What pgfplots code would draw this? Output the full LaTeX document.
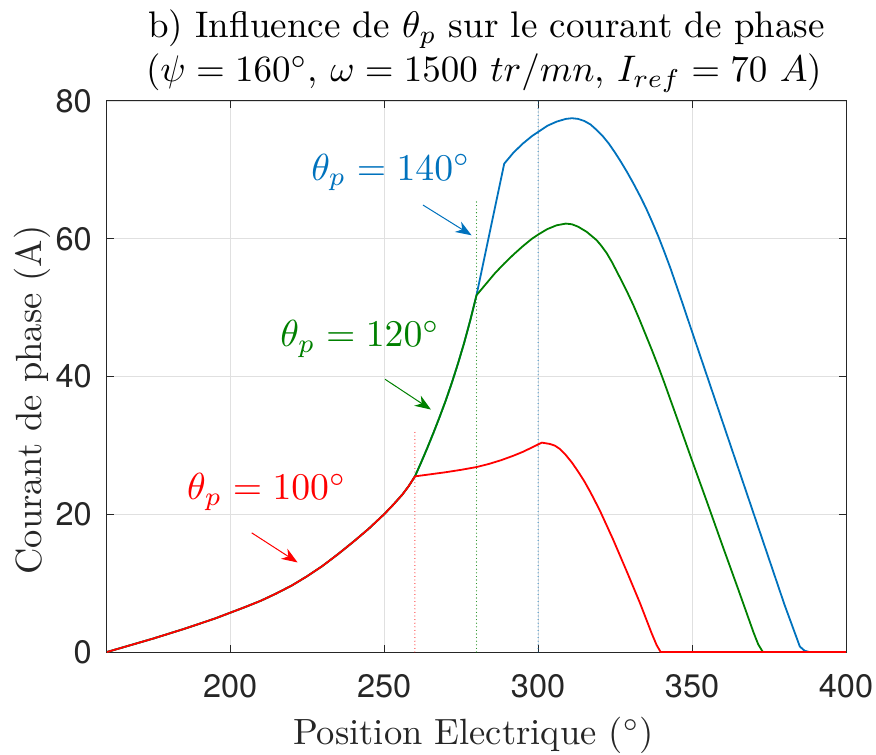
\RequirePackage{fix-cm}
\documentclass[border=0pt]{standalone}
\usepackage{pgfplots}
\pgfplotsset{compat=1.18}
\usepackage{fontspec}
\newfontfamily\helv{TeX Gyre Heros}
\usetikzlibrary{arrows.meta}
\definecolor{mblue}{rgb}{0,0.447,0.741}
\definecolor{mgreen}{rgb}{0,0.5,0}
\definecolor{mred}{rgb}{1,0,0}
\definecolor{axgray}{rgb}{0.15,0.15,0.15}
\definecolor{gridgray}{rgb}{0.88,0.88,0.88}
\pgfplotsset{dotline/.style={line width=1.1bp, line cap=round, dash pattern=on 0bp off 3.6bp}}
\newcommand\tenpt{\fontsize{10bp}{12bp}\selectfont}
\begin{document}
\begin{tikzpicture}
\useasboundingbox (-107bp,-103bp) rectangle (769bp,652bp);
\begin{axis}[at={(0,0)}, anchor=south west, scale only axis,
  width=739bp, height=551bp,
  xmin=160, xmax=400, ymin=0, ymax=80,
  xtick={200,250,300,350,400}, ytick={0,20,40,60,80},
  grid=major, major grid style={color=gridgray, line width=0.9bp},
  axis line style={color=axgray, line width=1bp},
  tick style={color=axgray, line width=1bp},
  tick align=inside, major tick length=7bp,
  /pgf/number format/assume math mode=true,
  ticklabel style={font=\helv\fontsize{32.5bp}{36bp}\selectfont, text=axgray},
  xticklabel style={anchor=base, inner sep=0pt, yshift=-45bp},
  yticklabel style={anchor=east, inner sep=0pt, xshift=-15bp},
  clip=false,
]
% dotted markers
\addplot[color=mred, dotline] coordinates {(260,0)(260,32)};
\addplot[color=mgreen, dotline] coordinates {(280,0)(280,65.5)};
\addplot[color=mblue, dotline] coordinates {(300,0)(300,80)};
% theta_p = 140
\addplot[color=mblue, line width=1.8bp, line join=round] coordinates {
(160,0)(165,0.65)(170,1.3)(175,1.95)(180,2.65)(185,3.35)(190,4.1)(195,4.85)(200,5.7)
(205,6.55)(210,7.45)(215,8.5)(220,9.65)(225,11.0)(230,12.5)(235,14.2)(240,16.0)
(245,17.9)(250,20.0)(253,21.4)(256,22.9)(258,24.1)(260,25.5)(262,27.5)(264,29.6)
(266,31.8)(268,34.1)(270,36.5)(272,39.1)(274,41.9)(276,44.9)(278,48.2)(280,51.8)
(289,70.9)(292,72.5)(295,73.8)(298,74.9)(300,75.5)(303,76.4)(306,77.0)(309,77.4)
(311,77.5)(313,77.4)(315,77.1)(317,76.6)(319,75.8)(321,74.9)(323,73.8)(325,72.5)
(327,71.1)(329,69.6)(331,68.0)(333,66.3)(335,64.5)(337,62.5)(339,60.4)(341,58.1)
(343,55.7)(345,53.1)(347,50.5)(350,46.5)(355,39.9)(360,33.3)(365,26.7)(370,20.1)
(375,13.5)(380,6.9)(385,0.8)(386.5,0.2)(388,0)(400,0)};
% theta_p = 120
\addplot[color=mgreen, line width=1.8bp, line join=round] coordinates {
(160,0)(165,0.65)(170,1.3)(175,1.95)(180,2.65)(185,3.35)(190,4.1)(195,4.85)(200,5.7)
(205,6.55)(210,7.45)(215,8.5)(220,9.65)(225,11.0)(230,12.5)(235,14.2)(240,16.0)
(245,17.9)(250,20.0)(253,21.4)(256,22.9)(258,24.1)(260,25.5)(262,27.5)(264,29.6)
(266,31.8)(268,34.1)(270,36.5)(272,39.1)(274,41.9)(276,44.9)(278,48.2)(280,51.8)
(283,53.4)(286,55.0)(289,56.4)(292,57.7)(295,58.9)(298,60.0)(300,60.6)(303,61.4)
(306,61.95)(309,62.2)(311,62.1)(313,61.75)(315.8,61.0)(319,59.8)(320.5,59.0)
(322.3,57.9)(324,56.6)(325.5,55.3)(327,54.0)(328.8,52.4)(331,50.3)(333,48.2)
(335,46.0)(337,43.8)(339,41.5)(341,39.1)(345,34.1)(350,27.8)(355,21.6)(360,15.3)
(365,9.1)(370,2.8)(371.5,1.1)(373,0)(400,0)};
% theta_p = 100
\addplot[color=mred, line width=1.8bp, line join=round] coordinates {
(160,0)(165,0.65)(170,1.3)(175,1.95)(180,2.65)(185,3.35)(190,4.1)(195,4.85)(200,5.7)
(205,6.55)(210,7.45)(215,8.5)(220,9.65)(225,11.0)(230,12.5)(235,14.2)(240,16.0)
(245,17.9)(250,20.0)(253,21.4)(256,22.9)(258,24.1)(260,25.5)(265,25.8)(270,26.1)
(275,26.45)(280,26.85)(284,27.3)(288,27.85)(292,28.5)(295,29.05)(298.5,29.8)(301.2,30.4)
(303.9,30.2)(305.5,29.95)(307,29.5)(309,28.6)(311,27.5)(313,26.2)(315,24.8)(317,23.2)
(320,20.6)(322,18.65)(324.4,16.3)(326.5,14.1)(328.8,11.7)(331,9.35)(333.1,7.1)
(335,4.9)(336.9,2.7)(338.5,1.0)(339.8,0)(400,0)};
% annotations
\node[anchor=base, text=mblue, scale=3.77] at (axis cs:252.2,68.5) {\tenpt$\theta_p = 140^\circ$};
\node[anchor=base, text=mgreen, scale=3.77] at (axis cs:242.2,44.3) {\tenpt$\theta_p = 120^\circ$};
\node[anchor=base, text=mred, scale=3.77] at (axis cs:211.9,22.1) {\tenpt$\theta_p = 100^\circ$};
\draw[mblue, line width=1bp, -{Stealth[length=16bp,width=12bp,inset=5bp]}] (axis cs:262.6,64.9) -- (axis cs:278.4,60.5);
\draw[mgreen, line width=1bp, -{Stealth[length=16bp,width=12bp,inset=5bp]}] (axis cs:250.3,39.6) -- (axis cs:265.2,35.2);
\draw[mred, line width=1bp, -{Stealth[length=16bp,width=12bp,inset=5bp]}] (axis cs:207.0,17.3) -- (axis cs:221.9,13.0);
\end{axis}
% title and labels
\node[anchor=base, scale=3.7] at (379.5bp,614.5bp) {\tenpt b) Influence de $\theta_p$ sur le courant de phase};
\node[anchor=base, scale=3.7] at (377bp,570bp) {\tenpt($\psi = 160^\circ$, $\omega = 1500\ tr/mn$, $I_{ref} = 70\ A$)};
\node[anchor=base, text=axgray, scale=3.65] at (366.5bp,-92.5bp) {\tenpt Position Electrique ($^\circ$)};
\node[anchor=base, rotate=90, text=axgray, scale=3.65] at (-65.3bp,252bp) {\tenpt Courant de phase (A)};
\end{tikzpicture}
\end{document}
